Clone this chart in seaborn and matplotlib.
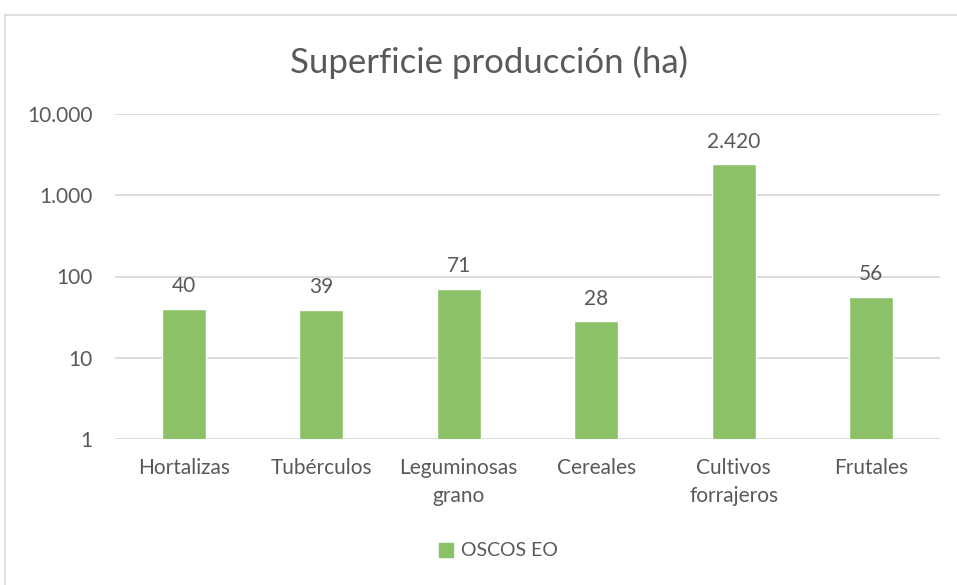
import numpy as np
import matplotlib
matplotlib.use("Agg")
import matplotlib.pyplot as plt
from matplotlib.lines import Line2D
from matplotlib.ticker import FixedLocator, FuncFormatter, NullLocator
import pandas as pd
import seaborn as sns

categories = ["Hortalizas", "Tubérculos", "Leguminosas\ngrano", "Cereales",
              "Cultivos\nforrajeros", "Frutales"]
values = [40, 39, 71, 28, 2420, 56]
series_name = "OSCOS EO"
y_ticks = [1, 10, 100, 1000, 10000]

green = "#8CC168"
grey_text = "#595959"
grid_col = "#D9D9D9"

sns.set_theme(style="white")
plt.rcParams["font.family"] = ["Lato", "DejaVu Sans"]


def es_fmt(v, pos=None):
    return f"{int(round(v)):,}".replace(",", ".")


df = pd.DataFrame({"cat": categories, "val": values, "serie": series_name})

fig = plt.figure(figsize=(9.57, 5.85), dpi=100)
ax = fig.add_axes([115 / 957, 1 - 439 / 585, 825 / 957, 325 / 585])

sns.barplot(data=df, x="cat", y="val", hue="serie", palette=[green],
            width=0.32, saturation=1, ax=ax, legend=False)
ax.set_yscale("log")

ax.set_ylim(1, 10000)
ax.yaxis.set_major_locator(FixedLocator(y_ticks))
ax.yaxis.set_major_formatter(FuncFormatter(es_fmt))
ax.yaxis.set_minor_locator(NullLocator())
ax.set_xlim(-0.5, len(categories) - 0.5)

ax.grid(axis="y", color=grid_col, linewidth=1.3)
ax.set_axisbelow(True)
for s in ax.spines.values():
    s.set_visible(False)
ax.tick_params(axis="both", length=0, labelsize=15, colors=grey_text)
ax.tick_params(axis="y", pad=16)
ax.tick_params(axis="x", pad=14)
for lbl in ax.get_xticklabels():
    lbl.set_linespacing(1.45)
ax.set_xlabel("")
ax.set_ylabel("")

for cont in ax.containers:
    ax.bar_label(cont, labels=[es_fmt(v) for v in values], padding=9,
                 fontsize=15, color=grey_text)

fig.text(489 / 957, 1 - 62 / 585, "Superficie producción (ha)", ha="center",
         va="center", fontsize=25, color=grey_text)

handle = Line2D([], [], marker="s", linestyle="", color=green, markersize=10)
fig.legend([handle], [series_name], loc="center", bbox_to_anchor=(492 / 957, 1 - 551 / 585),
           frameon=False, fontsize=14, labelcolor=grey_text, handletextpad=-0.2)

# outer chart frame (left and top edges visible)
fig.add_artist(Line2D([5 / 957, 5 / 957], [0, 1 - 15 / 585], transform=fig.transFigure,
                      color=grid_col, linewidth=1.2))
fig.add_artist(Line2D([5 / 957, 1], [1 - 15 / 585, 1 - 15 / 585], transform=fig.transFigure,
                      color=grid_col, linewidth=1.2))

fig.savefig("out.png", dpi=100, facecolor="white")
